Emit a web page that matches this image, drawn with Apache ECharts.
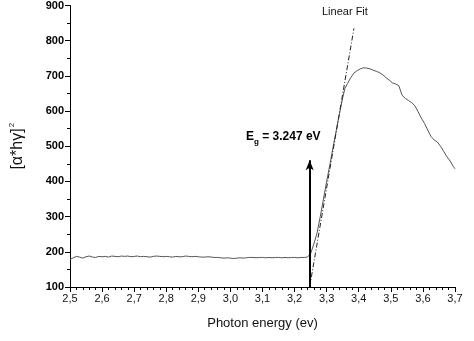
<!DOCTYPE html>
<html>
<head>
<meta charset="utf-8">
<script src="https://cdn.jsdelivr.net/npm/echarts@6/dist/echarts.min.js"></script>
<style>
  html, body { margin: 0; padding: 0; background: #fff; }
  #chart { width: 474px; height: 341px; }
</style>
</head>
<body>
<div id="chart"></div>
<script>
// photon energy (eV) and (alpha*h*nu)^2
var energy = [
  2.50, 2.51, 2.52, 2.53, 2.54, 2.55, 2.56, 2.57, 2.58, 2.59,
  2.60, 2.61, 2.62, 2.63, 2.64, 2.65, 2.66, 2.67, 2.68, 2.69,
  2.70, 2.71, 2.72, 2.73, 2.74, 2.75, 2.76, 2.77, 2.78, 2.79,
  2.80, 2.81, 2.82, 2.83, 2.84, 2.85, 2.86, 2.87, 2.88, 2.89,
  2.90, 2.91, 2.92, 2.93, 2.94, 2.95, 2.96, 2.97, 2.98, 2.99,
  3.00, 3.01, 3.02, 3.03, 3.04, 3.05, 3.06, 3.07, 3.08, 3.09,
  3.10, 3.11, 3.12, 3.13, 3.14, 3.15, 3.16, 3.17, 3.18, 3.19,
  3.20, 3.21, 3.22, 3.23, 3.24, 3.245,
  3.25, 3.26, 3.27, 3.28, 3.29, 3.30, 3.31, 3.32, 3.33, 3.34, 3.35, 3.357,
  3.365, 3.375, 3.385, 3.395, 3.405, 3.415, 3.425, 3.435, 3.445, 3.455,
  3.465, 3.475, 3.485, 3.495, 3.505, 3.515, 3.525, 3.535, 3.545, 3.555,
  3.565, 3.575, 3.585, 3.595, 3.605, 3.615, 3.625, 3.635, 3.645, 3.655,
  3.665, 3.675, 3.685, 3.695, 3.70
];
var absorb = [
  178, 183, 187, 185, 182, 186, 188, 185, 184, 187,
  186, 187, 185, 188, 187, 186, 188, 187, 188, 186,
  187, 188, 186, 187, 186, 185, 187, 188, 187, 186,
  187, 186, 185, 187, 186, 186, 188, 187, 186, 187,
  186, 185, 185, 186, 185, 184, 184, 183, 182, 183,
  182, 181, 182, 183, 182, 183, 184, 184, 183, 184,
  184, 183, 184, 183, 184, 184, 183, 184, 183, 184,
  184, 183, 184, 184, 185, 186,
  195, 222, 253, 300, 350, 400, 448, 497, 545, 593, 638, 665,
  678, 695, 708, 715, 720, 723, 722, 720, 716, 713,
  709, 703, 695, 688, 680, 677, 672, 645, 636, 630,
  624, 615, 598, 580, 565, 546, 528, 518, 512, 500,
  485, 470, 458, 442, 436
];
var fitX = [3.247, 3.385];
var fitY = [100, 835];
var gapEnergy = 3.247;
var arrowTop = 460;

var font = 'Liberation Sans';
var chart = echarts.init(document.getElementById('chart'));

var option = {
  animation: false,
  backgroundColor: '#fff',
  grid: { left: 69, right: 19, top: 5, bottom: 54 },
  xAxis: {
    type: 'value',
    min: 2.5, max: 3.7, interval: 0.1,
    name: 'Photon energy (ev)',
    nameLocation: 'middle',
    nameGap: 30,
    nameTextStyle: { fontFamily: font, fontSize: 13, color: '#111' },
    axisLine: { lineStyle: { color: '#000', width: 1 } },
    axisTick: { length: 5, lineStyle: { color: '#000' } },
    minorTick: { show: true, splitNumber: 5, length: 3, lineStyle: { color: '#000' } },
    splitLine: { show: false },
    axisLabel: {
      fontFamily: font, fontSize: 11, color: '#111', margin: 6,
      formatter: function (v) { return v.toFixed(1).replace('.', ','); }
    }
  },
  yAxis: {
    type: 'value',
    min: 100, max: 900, interval: 100,
    name: '{b|[α*hγ]}{s|2}',
    nameLocation: 'middle',
    nameGap: 42,
    nameRotate: 90,
    nameTextStyle: {
      rich: {
        b: { fontFamily: font, fontSize: 16, color: '#111' },
        s: { fontFamily: font, fontSize: 8, color: '#111', verticalAlign: 'top', padding: [0, 0, 12, 1] }
      }
    },
    axisLine: { show: true, lineStyle: { color: '#000', width: 1 } },
    axisTick: { show: true, length: 5, lineStyle: { color: '#000' } },
    minorTick: { show: true, splitNumber: 2, length: 3, lineStyle: { color: '#000' } },
    splitLine: { show: false },
    axisLabel: { fontFamily: font, fontSize: 11, color: '#000', fontWeight: 'bold', margin: 6 }
  },
  graphic: [
    {
      type: 'text', left: 322, top: 6,
      style: { text: 'Linear Fit', fontFamily: font, fontSize: 11, fill: '#111' }
    },
    {
      type: 'text', left: 246, top: 131,
      style: {
        text: '{e|E}{g|g}{e| = 3.247 eV}',
        rich: {
          e: { fontFamily: font, fontSize: 12, fontWeight: 'bold', fill: '#000' },
          g: { fontFamily: font, fontSize: 8, fontWeight: 'bold', fill: '#000', padding: [10, 0, 0, 0] }
        }
      }
    }
  ],
  series: [
    {
      type: 'line',
      data: energy.map(function (x, i) { return [x, absorb[i]]; }),
      showSymbol: false,
      lineStyle: { color: '#555', width: 1 },
      markLine: {
        silent: true,
        symbol: ['none', 'arrow'],
        symbolSize: [6, 10],
        label: { show: false },
        lineStyle: { color: '#000', width: 2, type: 'solid' },
        data: [[{ coord: [gapEnergy, 100] }, { coord: [gapEnergy, arrowTop] }]]
      }
    },
    {
      type: 'line',
      data: fitX.map(function (x, i) { return [x, fitY[i]]; }),
      showSymbol: false,
      lineStyle: { color: '#222', width: 1, type: [5, 2, 1, 2] }
    }
  ]
};
chart.setOption(option);
</script>
</body>
</html>
